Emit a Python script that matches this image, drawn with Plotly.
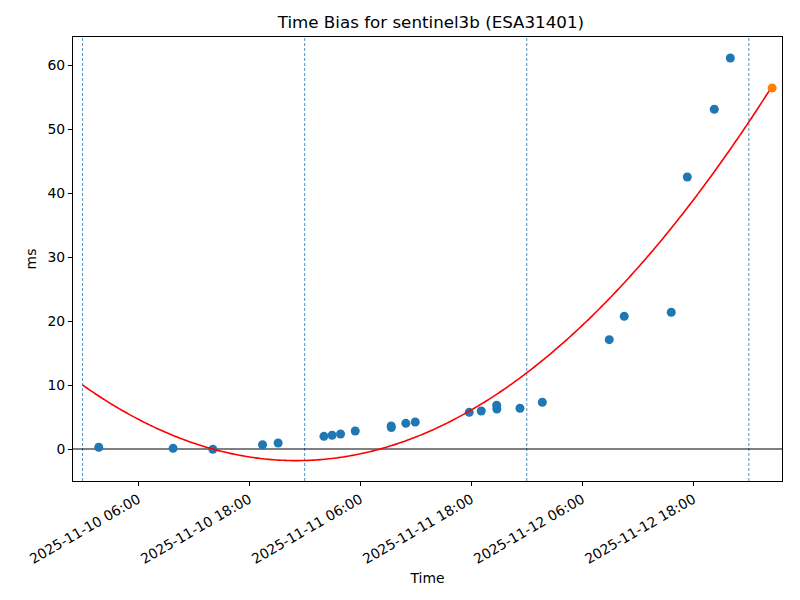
import numpy as np
import pandas as pd
import plotly.graph_objects as go

# ---- data ----
obs_times = [
    "2025-11-10 01:45", "2025-11-10 09:47", "2025-11-10 14:05", "2025-11-10 19:27",
    "2025-11-10 21:08", "2025-11-11 02:05", "2025-11-11 02:58", "2025-11-11 03:53",
    "2025-11-11 05:28", "2025-11-11 09:21", "2025-11-11 09:22", "2025-11-11 10:56",
    "2025-11-11 11:57", "2025-11-11 17:47", "2025-11-11 19:05", "2025-11-11 20:45",
    "2025-11-11 20:46", "2025-11-11 23:16", "2025-11-12 01:41", "2025-11-12 08:55",
    "2025-11-12 10:32", "2025-11-12 15:37", "2025-11-12 17:21", "2025-11-12 20:16",
    "2025-11-12 22:00",
]
obs_ms = [
    0.27, 0.10, -0.05, 0.67,
    0.94, 1.98, 2.14, 2.34,
    2.81, 3.60, 3.35, 4.01,
    4.22, 5.73, 5.94, 6.85,
    6.25, 6.36, 7.30, 17.08,
    20.73, 21.36, 42.50, 53.08,
    61.10,
]
pred_time = ["2025-11-13 02:31"]
pred_ms = [56.4]

# quadratic fit coefficients (ms vs hours since fit_origin)
fit_origin = "2025-11-10 00:00"
fit_end = "2025-11-13 02:31"
fit_coef = [0.02213, -1.0226, 10.0]  # a*t^2 + b*t + c

midnights = ["2025-11-10", "2025-11-11", "2025-11-12", "2025-11-13"]
x_range = ["2025-11-09 22:58", "2025-11-13 03:35"]
y_range = [-5.0, 64.375]

# ---- derived ----
t0 = pd.Timestamp(fit_origin)
t_end_h = (pd.Timestamp(fit_end) - t0).total_seconds() / 3600.0
t_h = np.linspace(0, t_end_h, 300)
fit_y = np.polyval(fit_coef, t_h)
fit_x = [t0 + pd.Timedelta(hours=float(h)) for h in t_h]

font = "DejaVu Sans, Liberation Sans, sans-serif"
fs = 13.9

fig = go.Figure()
fig.add_trace(go.Scatter(
    x=pd.to_datetime(obs_times), y=obs_ms, mode="markers",
    marker=dict(color="#1f77b4", size=9, line=dict(width=0)),
    showlegend=False,
))
fig.add_trace(go.Scatter(
    x=fit_x, y=fit_y, mode="lines",
    line=dict(color="red", width=1.6, simplify=False),
    showlegend=False,
))
fig.add_trace(go.Scatter(
    x=pd.to_datetime(pred_time), y=pred_ms, mode="markers",
    marker=dict(color="#ff7f0e", size=9, line=dict(width=0)),
    showlegend=False,
))

shapes = []
for m in midnights:
    shapes.append(dict(type="line", xref="x", yref="paper", x0=m, x1=m, y0=0, y1=1,
                       line=dict(color="#1f77b4", width=0.8, dash="3px,2px"), layer="below"))
shapes.append(dict(type="line", xref="paper", yref="y", x0=0, x1=1, y0=0, y1=0,
                   line=dict(color="black", width=1), layer="below"))

fig.update_layout(
    width=792, height=592,
    margin=dict(l=65, r=18, t=29, b=119, autoexpand=False),
    paper_bgcolor="white", plot_bgcolor="white",
    font=dict(family=font, size=fs, color="black"),
    title=dict(text="Time Bias for sentinel3b (ESA31401)", x=0.534, xanchor="center",
               y=0.9755, yanchor="middle", font=dict(size=16.7, family=font, color="black")),
    shapes=shapes,
)
fig.update_xaxes(
    type="date", range=x_range,
    tickformat="%Y-%m-%d %H:%M", tick0="2025-11-10 06:00", dtick=12 * 3600 * 1000,
    tickangle=-30, ticks="outside", ticklen=4, tickwidth=1, tickcolor="black",
    showline=True, linecolor="black", linewidth=1, mirror=True,
    showgrid=False, zeroline=False,
    tickfont=dict(size=fs, family=font),
    title=dict(text="Time", font=dict(size=fs, family=font), standoff=7),
)
fig.update_yaxes(
    range=y_range, tick0=0, dtick=10,
    ticks="outside", ticklen=4, tickwidth=1, tickcolor="black",
    showline=True, linecolor="black", linewidth=1, mirror=True,
    showgrid=False, zeroline=False,
    tickfont=dict(size=fs, family=font),
    title=dict(text="ms", font=dict(size=fs, family=font), standoff=7),
)

fig.write_html("out.html")
